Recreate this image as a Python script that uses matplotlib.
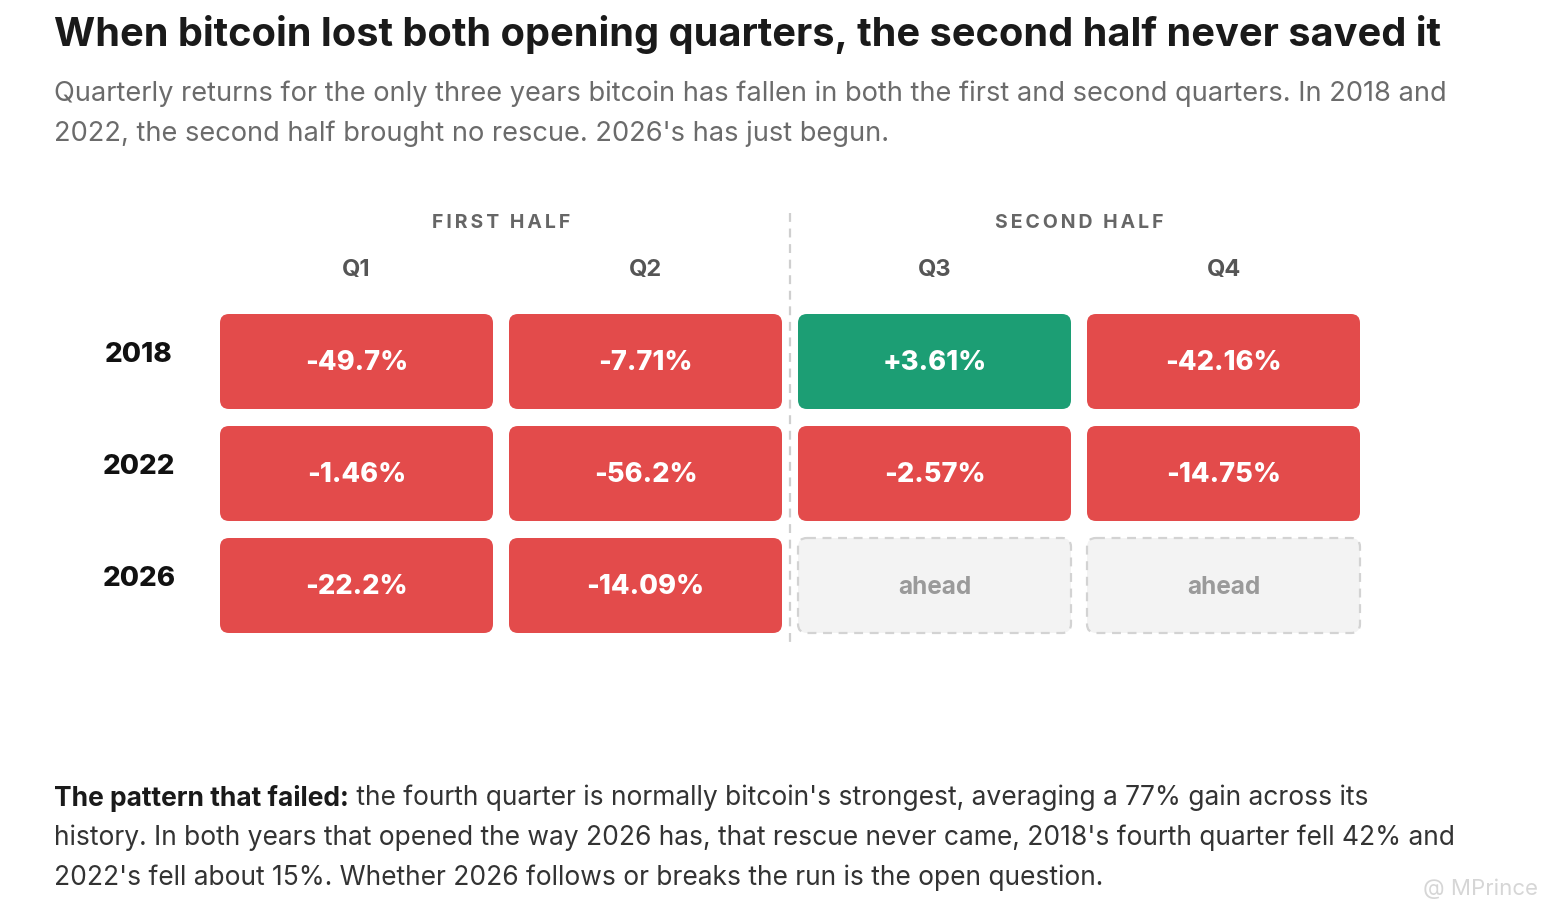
import matplotlib
matplotlib.use("Agg")
import matplotlib.pyplot as plt
from matplotlib.patches import FancyBboxPatch

plt.rcParams['font.family'] = ['Inter', 'DejaVu Sans']

# --- data ---
years = ["2018", "2022", "2026"]
quarters = ["Q1", "Q2", "Q3", "Q4"]
halves = ["FIRST HALF", "SECOND HALF"]
returns = [
    [-49.7, -7.71, 3.61, -42.16],
    [-1.46, -56.2, -2.57, -14.75],
    [-22.2, -14.09, None, None],
]

title = "When bitcoin lost both opening quarters, the second half never saved it"
subtitle_lines = [
    "Quarterly returns for the only three years bitcoin has fallen in both the first and second quarters. In 2018 and",
    "2022, the second half brought no rescue. 2026's has just begun.",
]
note_bold = "The pattern that failed:"
note_lines = [
    " the fourth quarter is normally bitcoin's strongest, averaging a 77% gain across its",
    "history. In both years that opened the way 2026 has, that rescue never came, 2018's fourth quarter fell 42% and",
    "2022's fell about 15%. Whether 2026 follows or breaks the run is the open question.",
]

RED = "#E34B4B"
GREEN = "#1C9E74"
GREY_BG = "#F3F3F3"
GREY_EDGE = "#D3D3D3"

W, H = 1546, 914
fig = plt.figure(figsize=(W / 100, H / 100), dpi=100)
ax = fig.add_axes([0, 0, 1, 1])
ax.set_xlim(0, W)
ax.set_ylim(H, 0)
ax.axis("off")

# titles
ax.text(54, 35, title, fontsize=28.6, fontweight="bold", color="#1a1a1a", va="center", ha="left")
for yy, line in zip([94, 134], subtitle_lines):
    ax.text(54, yy, line, fontsize=19.6, color="#6b6b6b", va="center", ha="left")

# grid geometry (pixels)
x0, y0 = 220, 314
cw, ch = 273, 95
gx, gy = 16, 17
r = 9

for i, yr in enumerate(years):
    cy = y0 + i * (ch + gy)
    ax.text(139, cy + ch / 2 - 7, yr, fontsize=20, fontweight="heavy", color="#111111", ha="center", va="center")
    for j, v in enumerate(returns[i]):
        cx = x0 + j * (cw + gx)
        if v is None:
            box = FancyBboxPatch((cx + r, cy + r), cw - 2 * r, ch - 2 * r,
                                 boxstyle=f"round,pad={r}", facecolor=GREY_BG,
                                 edgecolor=GREY_EDGE, linewidth=1.6, linestyle=(0, (4, 3)))
            ax.add_patch(box)
            ax.text(cx + cw / 2, cy + ch / 2 + 2, "ahead", fontsize=17.5, fontweight="bold",
                    color="#9a9a9a", ha="center", va="center")
        else:
            box = FancyBboxPatch((cx + r, cy + r), cw - 2 * r, ch - 2 * r,
                                 boxstyle=f"round,pad={r}", facecolor=RED if v < 0 else GREEN,
                                 edgecolor="none")
            ax.add_patch(box)
            ax.text(cx + cw / 2, cy + ch / 2 + 2, f"{v:+}%", fontsize=19.6, fontweight="heavy",
                    color="white", ha="center", va="center")

# column headers
for j, q in enumerate(quarters):
    cx = x0 + j * (cw + gx)
    ax.text(cx + cw / 2, 270, q, fontsize=17, fontweight="bold", color="#555555", ha="center", va="center")

for k, h in enumerate(halves):
    left = x0 + 2 * k * (cw + gx)
    mid = left + (2 * cw + gx) / 2
    ax.text(mid, 223, "\u2009".join(h), fontsize=14, fontweight="bold", color="#666666",
            ha="center", va="center")

# divider between halves
xd = x0 + 2 * cw + gx + gx / 2
ax.plot([xd, xd], [213, 646], color="#CFCFCF", linewidth=1.6, linestyle=(0, (4, 3)))

# footer note
line_y = [798, 838, 878]
bt = ax.text(54, line_y[0], note_bold, fontsize=19, fontweight="bold", color="#1a1a1a",
             ha="left", va="center")
ax.annotate(note_lines[0], xy=(1, 0.5), xycoords=bt, fontsize=19, color="#333333",
            ha="left", va="center")
for yy, line in zip(line_y[1:], note_lines[1:]):
    ax.text(54, yy, line, fontsize=19, color="#333333", ha="left", va="center")

# watermark
ax.text(1538, 889, "@ MPrince", fontsize=16, color="#d6d6d6", ha="right", va="center")

fig.savefig("out.png", dpi=100)
